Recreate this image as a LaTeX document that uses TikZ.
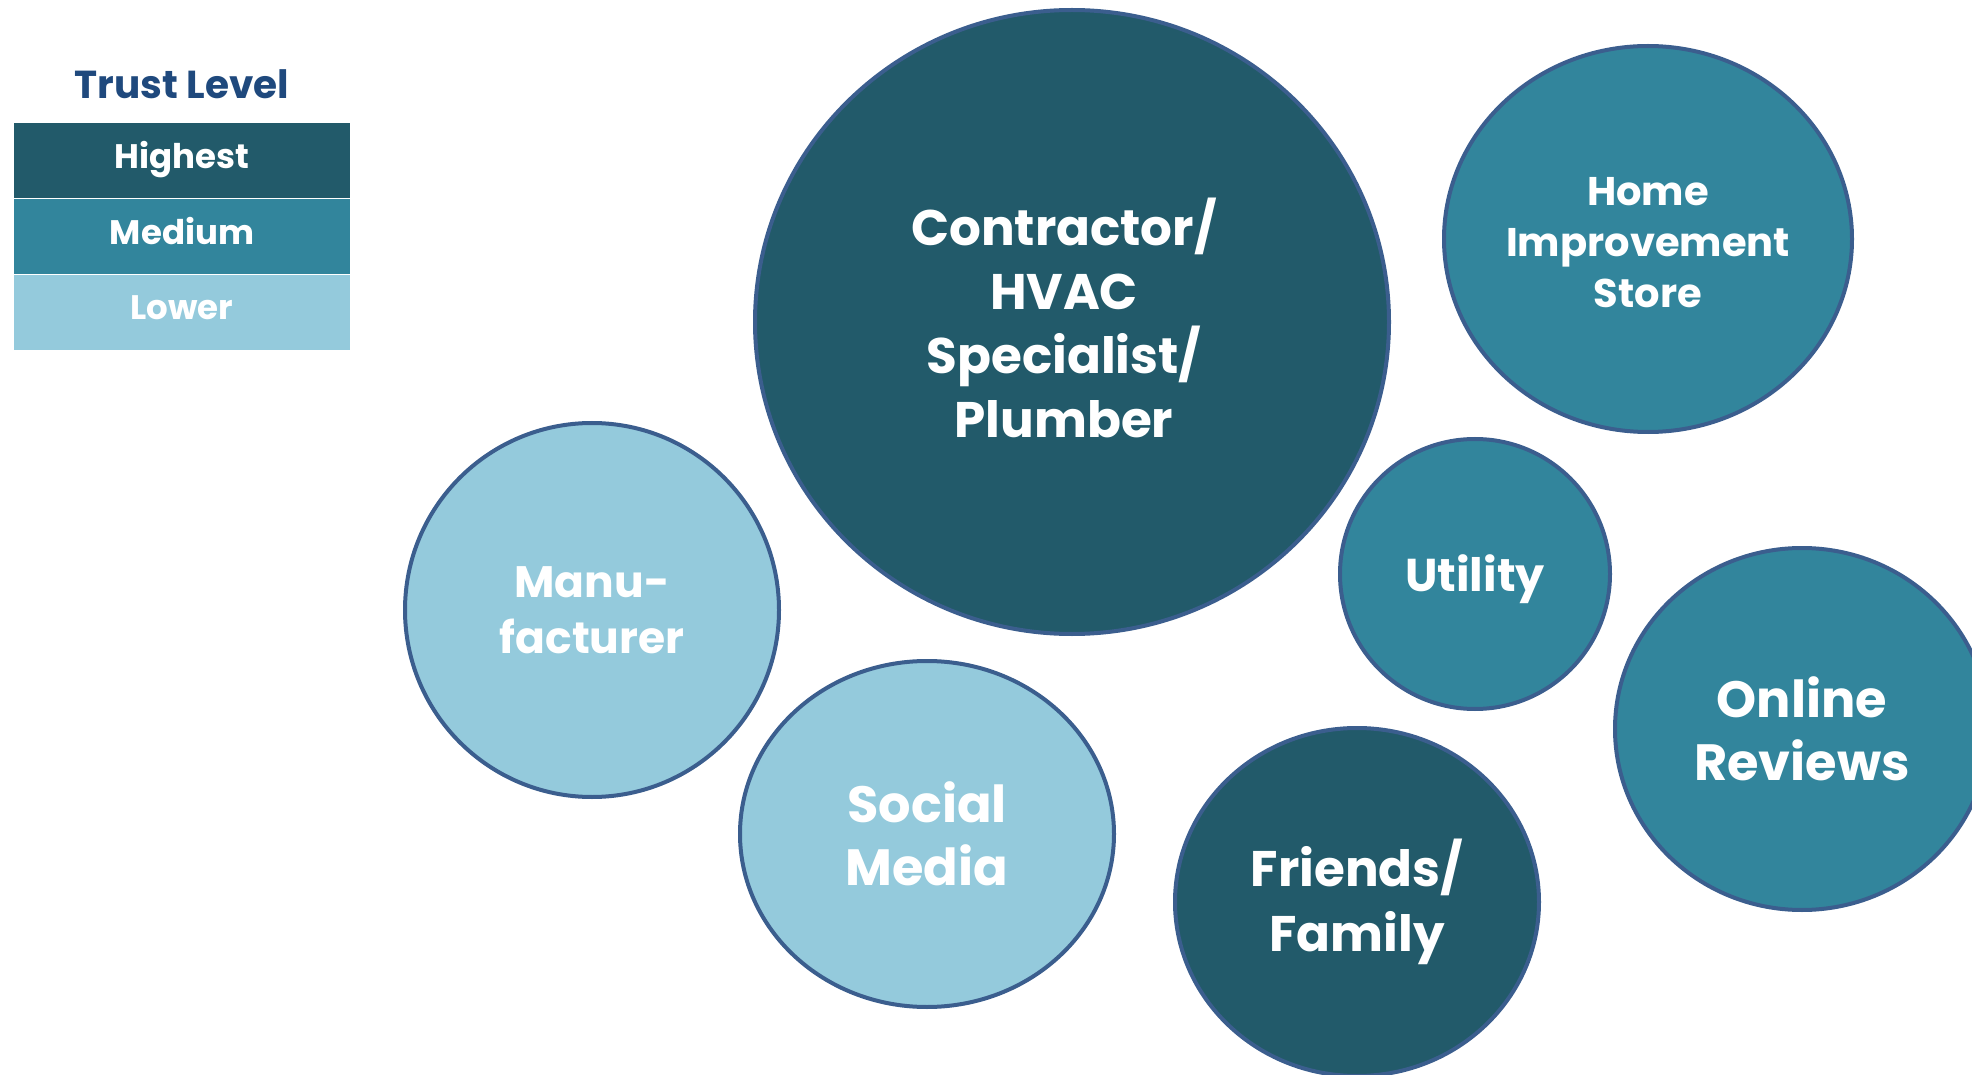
\documentclass[tikz,border=0pt]{standalone}
\usepackage{fontspec}
\setmainfont{Poppins}
\usetikzlibrary{shapes.geometric, positioning}
\definecolor{trustdark}{RGB}{34, 90, 106}
\definecolor{trustmid}{RGB}{50, 133, 156}
\definecolor{trustlight}{RGB}{148, 202, 220}
\definecolor{rimblue}{RGB}{59, 94, 142}
\definecolor{titleblue}{RGB}{31, 73, 125}

\tikzset{
  bubble/.style={ellipse, draw=rimblue, line width=2pt, inner sep=0pt, align=center, text=white},
  bubbletext/.style={align=center, text=white, inner sep=0pt},
  keyrow/.style={rectangle, minimum width=168pt, minimum height=37.5pt, inner sep=0pt,
    text height=0.9em, text depth=0.16em, text=white, font=\bfseries\fontsize{17}{20}\selectfont}
}

\begin{document}
\begin{tikzpicture}[x=0.5pt, y=-0.5pt]
  \useasboundingbox (0,0) rectangle (1972,1075);
  \clip (0,0) rectangle (1972,1075);

  % legend
  \node[text=titleblue, font=\bfseries\fontsize{19.5}{24}\selectfont] (title) at (182,84) {Trust Level};
  \node[keyrow, fill=trustdark] (high) at (182,161) {Highest};
  \node[keyrow, fill=trustmid, below=0pt of high] (mid) {Medium};
  \node[keyrow, fill=trustlight, below=0pt of mid] (low) {Lower};

  % bubbles
  \node[bubble, fill=trustdark, minimum width=317pt, minimum height=312pt] (contractor) at (1072,322) {};
  \node[bubbletext, font=\bfseries\fontsize{25}{32}\selectfont] (contractor-txt)
    at ([xshift=-4pt, yshift=2pt]contractor.center) {Contractor/\\HVAC\\Specialist/\\Plumber};
  \node[bubble, fill=trustmid, minimum width=204pt, minimum height=193pt] (store) at (1648,239) {};
  \node[bubbletext, font=\bfseries\fontsize{20}{25.5}\selectfont] (store-txt)
    at ([yshift=-2pt]store.center) {Home\\Improvement\\Store};
  \node[bubble, fill=trustmid, minimum width=135pt, minimum height=135pt] (utility) at (1475,574) {};
  \node[bubbletext, font=\bfseries\fontsize{23}{28}\selectfont] (utility-txt)
    at ([yshift=-2.5pt]utility.center) {Utility};
  \node[bubble, fill=trustmid, minimum width=187pt, minimum height=181pt,
    font=\bfseries\fontsize{25.5}{31.5}\selectfont] (reviews) at (1802,729)
    {Online\\Reviews};
  \node[bubble, fill=trustdark, minimum width=182pt, minimum height=174pt,
    font=\bfseries\fontsize{25}{32.5}\selectfont] (family) at (1357,902)
    {Friends/\\Family};
  \node[bubble, fill=trustlight, minimum width=187pt, minimum height=173pt,
    font=\bfseries\fontsize{25.5}{31.5}\selectfont] (social) at (927,834)
    {Social\\Media};
  \node[bubble, fill=trustlight, minimum width=187pt, minimum height=187pt,
    font=\bfseries\fontsize{22}{28}\selectfont] (maker) at (592,610)
    {Manu-\\facturer};
\end{tikzpicture}
\end{document}
